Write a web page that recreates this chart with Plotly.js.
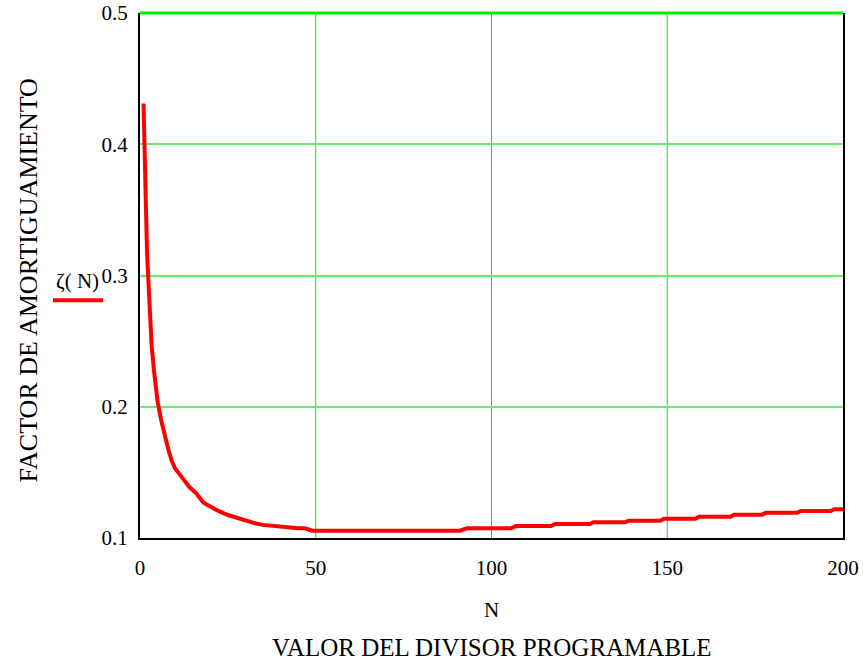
<!DOCTYPE html>
<html>
<head>
<meta charset="utf-8">
<script src="https://cdn.plot.ly/plotly-3.0.1.min.js"></script>
<style>html,body{margin:0;padding:0;background:#fff;}#chart{width:865px;height:664px;}</style>
</head>
<body>
<div id="chart"></div>
<script>
// Divider value N
const divisorN = [1, 1.5, 2, 2.4, 3, 3.33, 4, 5, 6, 7, 8, 9, 10, 12, 14, 16, 17, 18, 20, 22, 25, 28, 30, 33, 35, 38, 41, 45, 47, 49,
  91, 93, 105.5, 107, 117, 118, 128, 129, 138, 139, 148, 149, 158, 159, 168, 169, 177, 178, 187, 188, 196.5, 197.5, 200];
// Damping factor zeta(N)
const zeta = [0.431, 0.36, 0.318, 0.295, 0.262, 0.246, 0.227, 0.204, 0.190, 0.178, 0.168, 0.159, 0.153, 0.146, 0.139, 0.134, 0.131, 0.127, 0.124, 0.121, 0.1175, 0.115, 0.1135, 0.111, 0.110, 0.109, 0.1086, 0.1074, 0.1074, 0.1056,
  0.1056, 0.1074, 0.1074, 0.1091, 0.1091, 0.1107, 0.1107, 0.112, 0.112, 0.1132, 0.1132, 0.1147, 0.1147, 0.1162, 0.1162, 0.1178, 0.1178, 0.1193, 0.1193, 0.1206, 0.1206, 0.1219, 0.1219];

const xTicks = [0, 50, 100, 150, 200];
const yTicks = [0.1, 0.2, 0.3, 0.4, 0.5];
const yTickLabels = ['0.1', '0.2', '0.3', '0.4', '0.5'];

const serif = 'Liberation Serif, Times New Roman, serif';

const trace = {
  x: divisorN, y: zeta, type: 'scatter', mode: 'lines',
  line: {color: '#ff0000', width: 4}, hoverinfo: 'skip'
};

// vertical grid lines at the inner x ticks (bright green)
const vGrid = xTicks.slice(1, -1).map(v => ({
  type: 'line', xref: 'x', yref: 'paper', x0: v, x1: v, y0: 0, y1: 1,
  line: {color: '#00ee00', width: 1}, layer: 'below'
}));

const layout = {
  width: 865, height: 664,
  margin: {l: 140, r: 22, t: 13, b: 126},
  paper_bgcolor: '#ffffff', plot_bgcolor: '#ffffff',
  showlegend: false,
  font: {family: serif, size: 21, color: '#000'},
  xaxis: {
    range: [0, 200], tickvals: xTicks, ticktext: xTicks.map(String),
    showgrid: false,
    zeroline: false, showline: true, linecolor: '#000', linewidth: 2, mirror: false,
    ticks: 'outside', ticklen: 10, tickcolor: 'rgba(0,0,0,0)',
    tickfont: {family: serif, size: 21, color: '#000'}
  },
  yaxis: {
    range: [0.1, 0.5], tickvals: yTicks, ticktext: yTickLabels,
    showgrid: true, gridcolor: '#66ee66', gridwidth: 2,
    zeroline: false, showline: true, linecolor: '#000', linewidth: 2, mirror: true,
    ticks: 'outside', ticklen: 6, tickcolor: 'rgba(0,0,0,0)',
    tickfont: {family: serif, size: 21, color: '#000'}
  },
  shapes: vGrid.concat([
    {type: 'line', xref: 'paper', yref: 'paper', x0: 0, x1: 1, y0: 1, y1: 1, line: {color: '#00ee00', width: 3}, layer: 'above'},
    {type: 'line', xref: 'paper', yref: 'paper', x0: -0.1238, x1: -0.0526, y0: 0.453, y1: 0.453, line: {color: '#ff0000', width: 4}}
  ]),
  annotations: [
    {text: 'ζ( N)', xref: 'paper', yref: 'paper', x: -0.056, y: 0.489, xanchor: 'right', yanchor: 'middle', showarrow: false,
     font: {family: serif, size: 21, color: '#000'}},
    {text: 'FACTOR DE AMORTIGUAMIENTO', xref: 'paper', yref: 'paper', x: -0.159, y: 0.491, xanchor: 'center', yanchor: 'middle',
     textangle: -90, showarrow: false, font: {family: serif, size: 26, color: '#000'}},
    {text: 'N', xref: 'paper', yref: 'paper', x: 0.5, y: -0.137, xanchor: 'center', yanchor: 'middle', showarrow: false,
     font: {family: serif, size: 21, color: '#000'}},
    {text: 'VALOR DEL DIVISOR PROGRAMABLE', xref: 'paper', yref: 'paper', x: 0.5, y: -0.208, xanchor: 'center', yanchor: 'middle',
     showarrow: false, font: {family: serif, size: 25, color: '#000'}}
  ]
};

Plotly.newPlot('chart', [trace], layout, {displayModeBar: false, staticPlot: true});
</script>
</body>
</html>
